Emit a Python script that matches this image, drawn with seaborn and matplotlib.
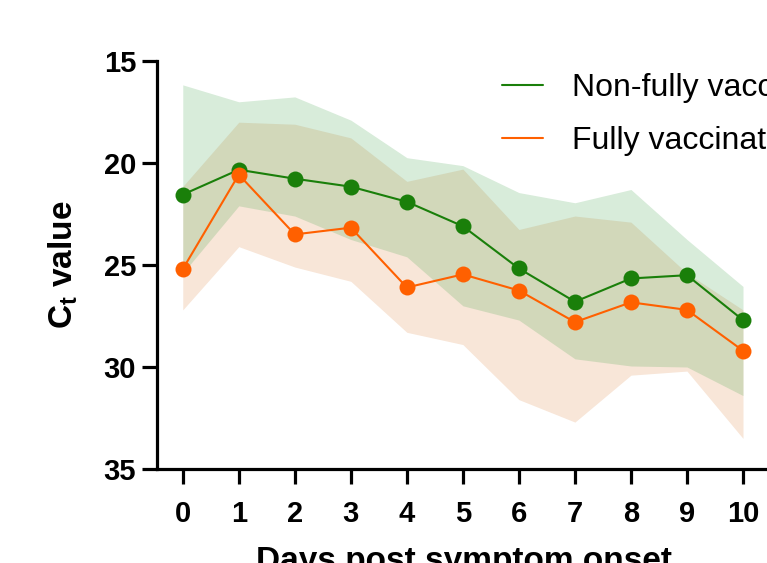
import matplotlib
matplotlib.use("Agg")
import matplotlib.pyplot as plt
from matplotlib.lines import Line2D
import seaborn as sns
import pandas as pd
import numpy as np

days = [0, 1, 2, 3, 4, 5, 6, 7, 8, 9, 10]
non_fully_mean = [21.55, 20.33, 20.77, 21.16, 21.9, 23.1, 25.17, 26.8, 25.66, 25.5, 27.7]
non_fully_low = [16.17, 17.0, 16.76, 17.9, 19.74, 20.13, 21.45, 21.95, 21.3, 23.75, 26.05]
non_fully_high = [25.4, 22.1, 22.6, 23.75, 24.6, 27.0, 27.7, 29.6, 29.95, 30.0, 31.4]
fully_mean = [25.2, 20.57, 23.5, 23.17, 26.1, 25.46, 26.25, 27.8, 26.83, 27.2, 29.2]
fully_low = [21.15, 18.0, 18.1, 18.77, 20.9, 20.3, 23.26, 22.6, 22.9, 25.4, 27.2]
fully_high = [27.2, 24.1, 25.1, 25.8, 28.3, 28.9, 31.6, 32.7, 30.4, 30.2, 33.5]
groups = ["Non-fully vaccinated", "Fully vaccinated"]
y_ticks = [15, 20, 25, 30, 35]

green = "#1a7f0a"
orange = "#ff6000"

sns.set_style("ticks")
plt.rcParams["font.family"] = ["Liberation Sans", "DejaVu Sans"]
plt.rcParams["mathtext.fontset"] = "custom"
plt.rcParams["mathtext.rm"] = "Liberation Sans"
plt.rcParams["mathtext.bf"] = "Liberation Sans:bold"
plt.rcParams["mathtext.it"] = "Liberation Sans:italic"
plt.rcParams["text.color"] = "black"
plt.rcParams["axes.labelcolor"] = "black"
plt.rcParams["xtick.color"] = "black"
plt.rcParams["ytick.color"] = "black"

df = pd.DataFrame({
    "day": days * 2,
    "ct": non_fully_mean + fully_mean,
    "group": [groups[0]] * len(days) + [groups[1]] * len(days),
})

fig = plt.figure(figsize=(7.67, 5.63), dpi=100)
ax = fig.add_axes([157 / 767, (563 - 469) / 563, 614 / 767, 408 / 563])

ax.fill_between(days, fully_low, fully_high, color=(220/255, 130/255, 60/255), alpha=0.2, linewidth=0, zorder=1)
ax.fill_between(days, non_fully_low, non_fully_high, color=(60/255, 160/255, 70/255), alpha=0.2, linewidth=0, zorder=1.1)

sns.lineplot(data=df, x="day", y="ct", hue="group", hue_order=groups,
             palette=[green, orange], marker="o", markersize=11.5,
             markeredgewidth=0, linewidth=1.5, legend=False, ax=ax, zorder=3)

ax.set_xlim(-0.46, 10.5)
ax.set_ylim(35, 15)
ax.set_xticks(days)
ax.set_yticks(y_ticks)
for s in ["top", "right"]:
    ax.spines[s].set_visible(False)
for s in ["left", "bottom"]:
    ax.spines[s].set_linewidth(2.3)
    ax.spines[s].set_color("black")
ax.tick_params(axis="both", length=11, width=2.3, color="black", labelcolor="black",
               labelsize=21, direction="out")
ax.tick_params(axis="x", pad=11)
ax.tick_params(axis="y", pad=4)
for lab in ax.get_xticklabels() + ax.get_yticklabels():
    lab.set_fontweight("bold")

ax.set_xlabel("Days post symptom onset", fontsize=24, fontweight="bold", labelpad=13, color="black")
ax.set_ylabel(r"$\mathbf{C_t}$ value", fontsize=24, fontweight="bold", color="black")
ax.yaxis.set_label_coords(-0.125, 0.5)

handles = [Line2D([0], [0], color=green, lw=1.5), Line2D([0], [0], color=orange, lw=1.5)]
leg = fig.legend(handles, groups, loc="upper left", bbox_to_anchor=(502 / 767, 1 - 73 / 563),
                 frameon=False, fontsize=23, borderpad=0, borderaxespad=0,
                 handlelength=1.28, handletextpad=0.9, labelspacing=0.72)
for t in leg.get_texts():
    t.set_color("black")

fig.savefig("out.png", dpi=100)
